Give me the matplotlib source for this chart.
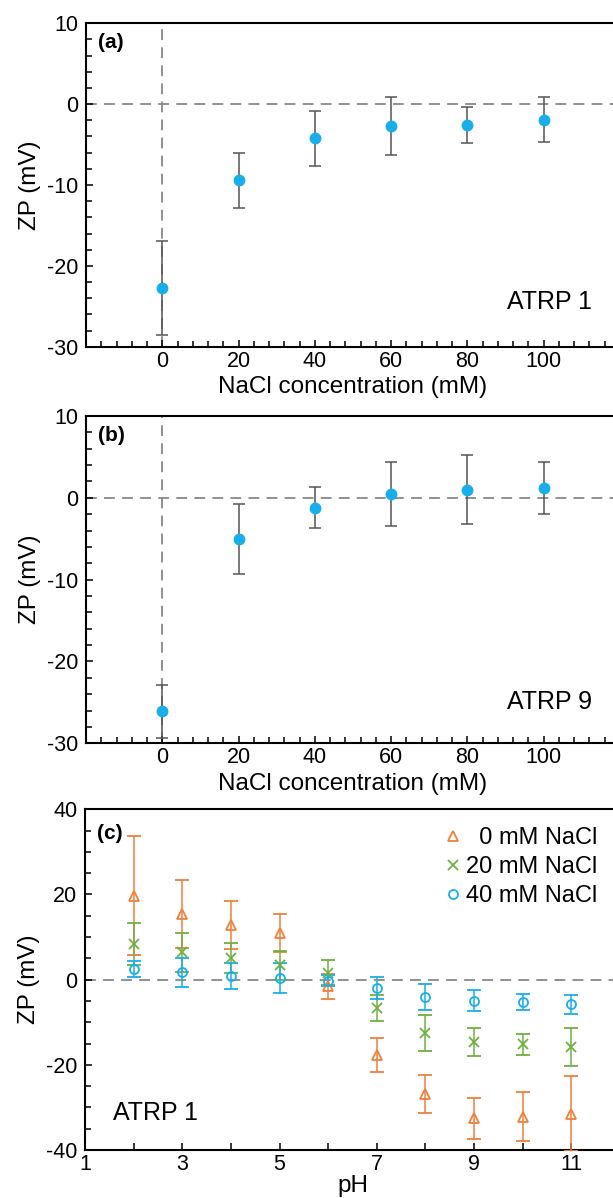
import numpy as np
import matplotlib
matplotlib.use("Agg")
import matplotlib.pyplot as plt
from matplotlib.ticker import MultipleLocator

plt.rcParams['font.family'] = ['Liberation Sans', 'DejaVu Sans']
plt.rcParams['axes.unicode_minus'] = False

# Panel (a): ATRP 1, ZP vs NaCl concentration
nacl_a = [0, 20, 40, 60, 80, 100]
zp_a = [-22.7, -9.4, -4.2, -2.7, -2.6, -1.9]
err_a = [5.8, 3.4, 3.4, 3.6, 2.2, 2.8]

# Panel (b): ATRP 9
nacl_b = [0, 20, 40, 60, 80, 100]
zp_b = [-26.1, -5.0, -1.2, 0.5, 1.0, 1.2]
err_b = [3.2, 4.3, 2.5, 3.9, 4.2, 3.2]

# Panel (c): ATRP 1, ZP vs pH at three NaCl levels
ph = [2, 3, 4, 5, 6, 7, 8, 9, 10, 11]
zp_0mM = [19.7, 15.4, 12.8, 10.9, -1.6, -17.7, -26.8, -32.6, -32.2, -31.5]
err_0mM = [14.0, 8.0, 5.7, 4.4, 3.0, 4.0, 4.5, 4.7, 5.8, 8.8]
zp_20mM = [8.4, 6.4, 5.1, 3.4, 1.6, -6.6, -12.5, -14.6, -15.2, -15.8]
err_20mM = [5.0, 4.6, 3.5, 3.4, 2.9, 3.0, 4.2, 3.3, 2.5, 4.4]
zp_40mM = [2.5, 1.7, 0.8, 0.4, -0.3, -2.0, -4.1, -4.9, -5.3, -5.8]
err_40mM = [1.8, 3.4, 3.0, 3.5, 1.3, 2.6, 3.0, 2.4, 1.9, 2.2]
series_labels = ['  0 mM NaCl', '20 mM NaCl', '40 mM NaCl']

W, H = 613, 1198
BLUE = '#17aeea'
ORANGE = '#f07f3a'
GREEN = '#70b043'
TICK_FS = 15.5
LABEL_FS = 17.5
NOTE_FS = 18
TAG_FS = 15


def axes_px(fig, left, top, right, bottom):
    # place an axes from pixel coordinates (origin top-left)
    return fig.add_axes([left / W, 1 - bottom / H, (right - left) / W, (bottom - top) / H])


def style_axes(ax):
    for s in ax.spines.values():
        s.set_linewidth(1.5)
    ax.tick_params(which='both', direction='in', top=False, right=False,
                   labelsize=TICK_FS, width=1.1)
    ax.tick_params(axis='x', which='both', pad=3)
    ax.tick_params(axis='y', which='both', pad=5.5)
    ax.tick_params(which='major', length=5)
    ax.tick_params(which='minor', length=4)


def zero_line(ax, vertical=False):
    ax.axhline(0, color='#888888', ls=(0, (6, 4)), lw=1.3, zorder=1)
    if vertical:
        ax.axvline(0, color='#888888', ls=(0, (6, 4)), lw=1.3, zorder=1)


def salt_panel(ax, x, y, e, tag, name, name_y):
    zero_line(ax, vertical=True)
    ax.errorbar(x, y, yerr=e, fmt='o', color=BLUE, ms=7.5, ecolor='#555555',
                elinewidth=1.1, capsize=4.5, capthick=1.1, zorder=3)
    ax.set_xlim(-20, 120)
    ax.set_ylim(-30, 10)
    ax.set_xticks([0, 20, 40, 60, 80, 100])
    ax.set_yticks([10, 0, -10, -20, -30])
    ax.xaxis.set_minor_locator(MultipleLocator(4))
    ax.yaxis.set_minor_locator(MultipleLocator(2))
    style_axes(ax)
    ax.set_xlabel('NaCl concentration (mM)', fontsize=LABEL_FS, labelpad=3)
    ax.set_ylabel('ZP (mV)', fontsize=LABEL_FS, labelpad=4)
    ax.text(0.022, 0.94, tag, transform=ax.transAxes, fontsize=TAG_FS,
            fontweight='bold', va='center')
    ax.text(0.788, name_y, name, transform=ax.transAxes, fontsize=NOTE_FS,
            va='center')


fig = plt.figure(figsize=(W / 100, H / 100), dpi=100)

ax_a = axes_px(fig, 86, 23.3, 620, 346.7)
salt_panel(ax_a, nacl_a, zp_a, err_a, '(a)', 'ATRP 1', 0.138)

ax_b = axes_px(fig, 86, 416, 620, 743.3)
salt_panel(ax_b, nacl_b, zp_b, err_b, '(b)', 'ATRP 9', 0.126)

ax_c = axes_px(fig, 85, 809.3, 620, 1150)
zero_line(ax_c)
markers = ['^', 'x', 'o']
colors = [ORANGE, GREEN, BLUE]
ys = [zp_0mM, zp_20mM, zp_40mM]
es = [err_0mM, err_20mM, err_40mM]
for y, e, m, c, lab in zip(ys, es, markers, colors, series_labels):
    ax_c.errorbar(ph, y, yerr=e, fmt=m, color=c, mfc='none', mec=c, ms=6.5,
                  mew=1.3, elinewidth=1.1, capsize=5, capthick=1.1, label=lab,
                  zorder=3)
ax_c.set_xlim(1, 12)
ax_c.set_ylim(-40, 40)
ax_c.set_xticks([1, 3, 5, 7, 9, 11])
ax_c.set_yticks([40, 20, 0, -20, -40])
ax_c.xaxis.set_minor_locator(MultipleLocator(1))
ax_c.yaxis.set_minor_locator(MultipleLocator(5))
style_axes(ax_c)
ax_c.tick_params(which='minor', axis='x', length=5)
ax_c.set_xlabel('pH', fontsize=LABEL_FS, labelpad=0)
ax_c.set_ylabel('ZP (mV)', fontsize=LABEL_FS, labelpad=4)
ax_c.text(0.022, 0.93, '(c)', transform=ax_c.transAxes, fontsize=TAG_FS,
          fontweight='bold', va='center')
ax_c.text(0.052, 0.109, 'ATRP 1', transform=ax_c.transAxes, fontsize=NOTE_FS,
          va='center')

handles, labels = ax_c.get_legend_handles_labels()
handles = [h[0] for h in handles]
ax_c.legend(handles, labels, loc='upper right', bbox_to_anchor=(0.975, 0.975),
            frameon=False, fontsize=17, handlelength=0.4, handletextpad=0.35,
            labelspacing=0.3, borderaxespad=0.0)

fig.savefig('out.png', dpi=100)
